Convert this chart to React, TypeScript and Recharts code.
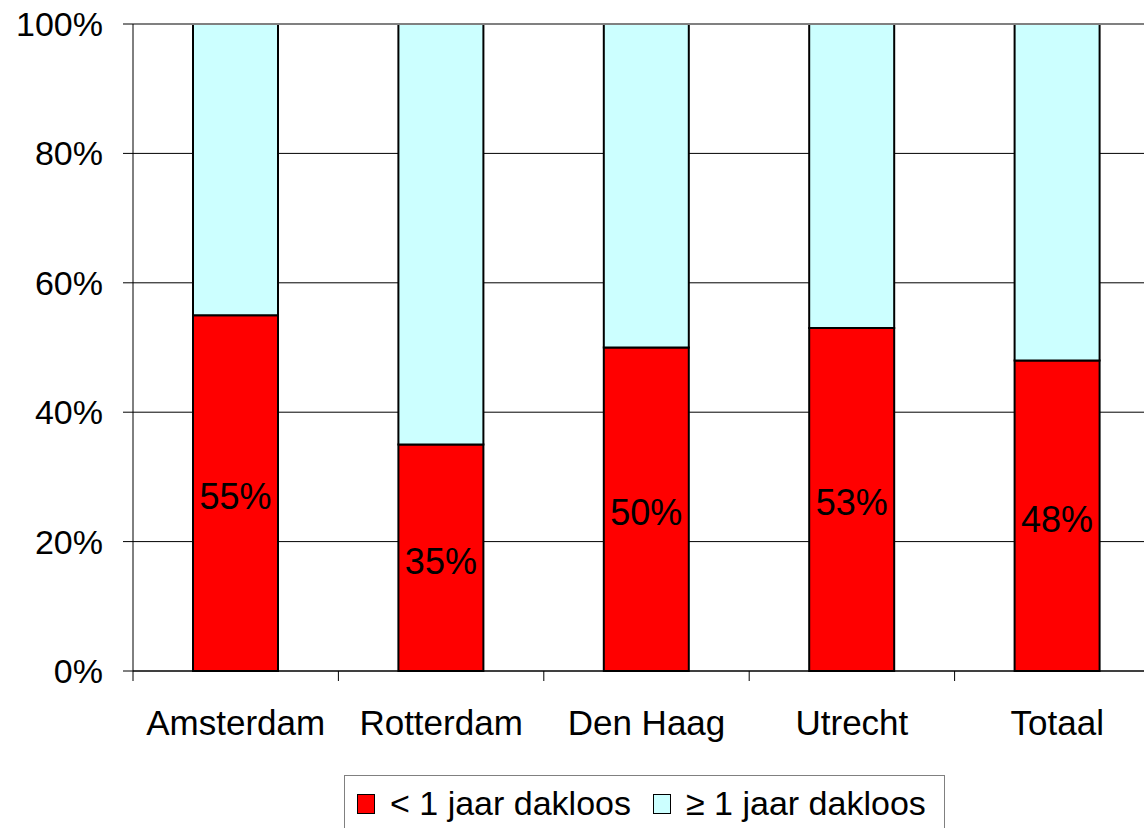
import { BarChart, Bar, XAxis, YAxis, CartesianGrid, ReferenceLine, LabelList } from 'recharts';

const cities = ['Amsterdam', 'Rotterdam', 'Den Haag', 'Utrecht', 'Totaal'];
const shortTerm = [55, 35, 50, 53, 48]; // < 1 jaar dakloos
const longTerm = [45, 65, 50, 47, 52]; // ≥ 1 jaar dakloos
const yTicks = [0, 20, 40, 60, 80, 100];

const data = cities.map((name, i) => ({ name, lt: shortTerm[i], ge: longTerm[i] }));

const FONT = '"Liberation Sans", Arial, sans-serif';

const CityTick = (props: any) => {
  const { x, y, payload, width, visibleTicksCount } = props;
  const band = (width || 1027) / (visibleTicksCount || cities.length);
  const axisY = y - 64;
  return (
    <g>
      <line x1={x - band / 2} x2={x - band / 2} y1={axisY} y2={axisY + 10} stroke="#000" />
      <text x={x} y={y} textAnchor="middle" fontSize={35} fill="#000" fontFamily={FONT}>
        {payload.value}
      </text>
    </g>
  );
};

const Swatch = ({ color }: { color: string }) => (
  <span style={{ display: 'inline-block', width: 18, height: 20, background: color, border: '1.5px solid #000', boxSizing: 'border-box', marginRight: 15 }} />
);

export default function App() {
  return (
    <div style={{ position: 'absolute', left: 0, top: 0, width: 1144, height: 828, overflow: 'hidden', background: '#fff', fontFamily: FONT }}>
      <BarChart width={1160} height={828} data={data} margin={{ top: 24, right: 0, bottom: 0, left: 0 }}>
        <CartesianGrid vertical={false} stroke="#000" />
        <ReferenceLine y={100} stroke="#808080" strokeWidth={2} />
        <XAxis
          dataKey="name"
          height={157}
          tickLine={false}
          tickSize={10}
          tickMargin={54}
          axisLine={{ stroke: '#000' }}
          tick={<CityTick />}
          interval={0}
        />
        <YAxis
          width={133}
          domain={[0, 100]}
          ticks={yTicks}
          tickFormatter={(v) => `${v}%`}
          tickSize={10}
          tickMargin={20}
          axisLine={{ stroke: '#000' }}
          tickLine={{ stroke: '#000' }}
          tick={{ fill: '#000', fontSize: 34, fontFamily: FONT }}
        />
        <Bar dataKey="lt" stackId="a" fill="#FF0000" stroke="#000" strokeWidth={2} barSize={85} isAnimationActive={false}>
          <LabelList
            dataKey="lt"
            position="center"
            formatter={(v: any) => `${v}%`}
            dy={3}
            style={{ fill: '#000', fontSize: 36, fontFamily: FONT }}
          />
        </Bar>
        <Bar dataKey="ge" stackId="a" fill="#CCFFFF" stroke="#000" strokeWidth={2} barSize={85} isAnimationActive={false} />
      </BarChart>
      <div
        style={{
          position: 'absolute', left: 344, top: 775, width: 601, height: 80, boxSizing: 'border-box',
          border: '1px solid #808080', display: 'flex', alignItems: 'center', paddingLeft: 12,
          fontSize: 34, lineHeight: '37px', color: '#000', paddingTop: 10, paddingBottom: 33,
        }}
      >
        <Swatch color="#FF0000" />
        <span>&lt; 1 jaar dakloos</span>
        <span style={{ width: 22 }} />
        <Swatch color="#CCFFFF" />
        <span>≥ 1 jaar dakloos</span>
      </div>
    </div>
  );
}
